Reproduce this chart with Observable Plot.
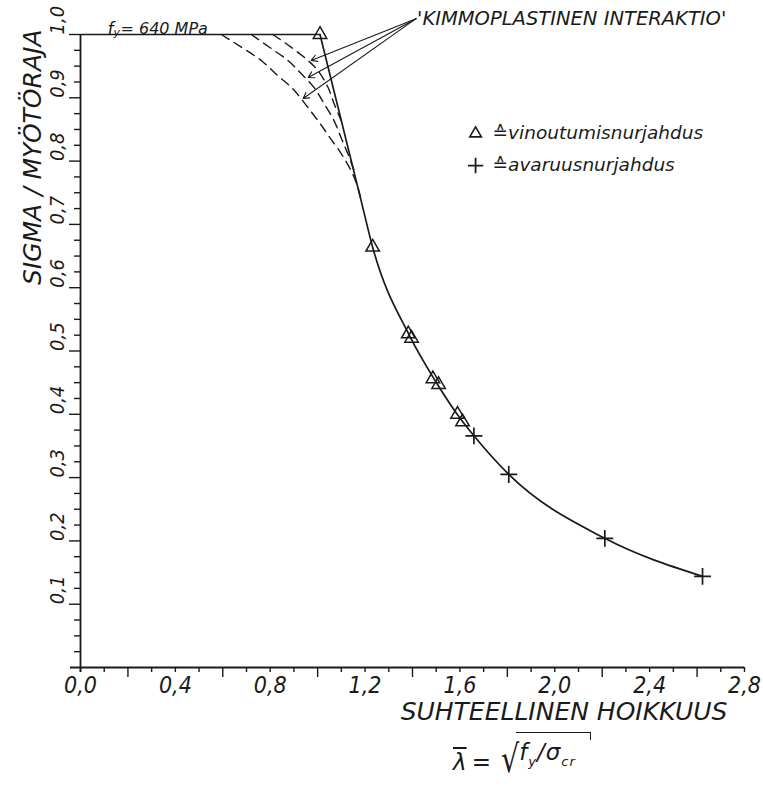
<!DOCTYPE html>
<html>
<head>
<meta charset="utf-8">
<script src="https://cdn.jsdelivr.net/npm/d3@7"></script>
<script src="https://cdn.jsdelivr.net/npm/@observablehq/plot@0.6"></script>
<style>
  html, body { margin: 0; padding: 0; background: #fff; }
  #chart { position: relative; width: 763px; height: 788px; overflow: hidden; background: #fff; }
  #formula { position: absolute; left: 453px; top: 735px; height: 44px; display: flex; align-items: flex-end;
             font-family: "DejaVu Sans", sans-serif; font-style: italic; font-size: 23px; color: #1a1a1a; white-space: nowrap; line-height: 26px; }
  #formula .lam { text-decoration: overline; margin-bottom: 4px; }
  #formula .eq { margin: 0 4px 4px 5px; }
  #formula .sqrt { font-style: normal; font-size: 38px; line-height: 40px; display: inline-block; transform: scaleX(0.75); transform-origin: right bottom; }
  #formula .rad { position: relative; border-top: 1.6px solid #1a1a1a; padding: 6px 14px 0 3px; margin-left: -3px; margin-bottom: 4px; letter-spacing: 1px; }
  #formula .rad::after { content: ""; position: absolute; right: -1px; top: -1px; height: 8px; border-right: 1.6px solid #1a1a1a; }
  #formula sub { font-size: 13px; }
</style>
</head>
<body>
<div id="chart"></div>
<script>
// ---- data ----
const triangleX = [1.01, 1.232, 1.382, 1.396, 1.486, 1.510, 1.590, 1.611];
const triangleY = [1.000, 0.664, 0.527, 0.520, 0.456, 0.447, 0.400, 0.388];
const plusX = [1.659, 1.806, 2.211, 2.623];
const plusY = [0.366, 0.305, 0.204, 0.144];

const plateauX = [0, 1.01];
const plateauY = [1.0, 1.0];
const curveX = [1.01, 1.183, 1.232, 1.389, 1.499, 1.600, 1.659, 1.806, 2.211, 2.623];
const curveY = [1.000, 0.738, 0.664, 0.523, 0.451, 0.394, 0.366, 0.305, 0.204, 0.144];

const dashOuterX = [0.594, 0.678, 0.762, 0.832, 0.896, 0.952, 1.001, 1.050, 1.099, 1.141, 1.169, 1.186];
const dashOuterY = [1.000, 0.980, 0.959, 0.935, 0.914, 0.888, 0.864, 0.838, 0.812, 0.785, 0.759, 0.735];
const dashMiddleX = [0.720, 0.804, 0.875, 0.931, 0.985, 1.027, 1.069, 1.099, 1.127, 1.154];
const dashMiddleY = [1.000, 0.978, 0.959, 0.938, 0.916, 0.891, 0.864, 0.837, 0.812, 0.785];
const dashInnerX = [0.811, 0.888, 0.959, 1.001, 1.043, 1.069, 1.099];
const dashInnerY = [1.000, 0.980, 0.959, 0.943, 0.917, 0.891, 0.864];

const arrowStartX = 1.415, arrowStartY = 1.025;
const arrowEndX = [0.973, 0.960, 0.939];
const arrowEndY = [0.959, 0.932, 0.899];

// legend anchor (data units)
const legendX = 1.666;
const legendY = [0.8436, 0.793];

const xLabelTicks = [0, 0.4, 0.8, 1.2, 1.6, 2.0, 2.4, 2.8];
const xLabels = ["0,0", "0,4", "0,8", "1,2", "1,6", "2,0", "2,4", "2,8"];
const xLongTicks = [0.2, 0.6, 1.0, 1.4, 1.8, 2.2, 2.6];
const xShortTicks = [0, 0.1, 0.3, 0.4, 0.5, 0.7, 0.8, 0.9, 1.1, 1.2, 1.3, 1.5, 1.6, 1.7, 1.9, 2.0, 2.1, 2.3, 2.4, 2.5, 2.7, 2.8];
const yLabelTicks = [0.1, 0.2, 0.3, 0.4, 0.5, 0.6, 0.7, 0.8, 0.9, 1.0];
const yLabels = ["0,1", "0,2", "0,3", "0,4", "0,5", "0,6", "0,7", "0,8", "0,9", "1,0"];
const yMinorTicks = d3.range(0, 40).map(i => i * 0.025).filter(v => Math.abs(v * 10 - Math.round(v * 10)) > 1e-6);

const annotationText = "'KIMMOPLASTINEN INTERAKTIO'";
const legendItems = ["\u2259vinoutumisnurjahdus", "\u2259avaruusnurjahdus"];
const yTitle = "SIGMA / MYÖTÖRAJA";
const xTitle = "SUHTEELLINEN HOIKKUUS";

// ---- tables built from the arrays ----
const triangles = triangleX.map((x, i) => ({x, y: triangleY[i]}));
const pluses = plusX.map((x, i) => ({x, y: plusY[i]}));
const plateau = plateauX.map((x, i) => ({x, y: plateauY[i]}));
const curve = curveX.map((x, i) => ({x, y: curveY[i]}));
const dashed = [
  ...dashOuterX.map((x, i) => ({s: "outer", x, y: dashOuterY[i]})),
  ...dashMiddleX.map((x, i) => ({s: "middle", x, y: dashMiddleY[i]})),
  ...dashInnerX.map((x, i) => ({s: "inner", x, y: dashInnerY[i]}))
];
const arrows = arrowEndX.map((x, i) => ({x1: arrowStartX, y1: arrowStartY, x2: x, y2: arrowEndY[i]}));
const legendRows = legendItems.map((t, i) => ({x: legendX, y: legendY[i], t}));

const W = 763, H = 735, ML = 80, MR = 19, MT = 34, MB = 68;
const FW = W - ML - MR, FH = H - MT - MB;
const ink = "#1a1a1a";
const fontC = '"DejaVu Sans Condensed","DejaVu Sans",sans-serif';
const fontN = '"DejaVu Sans",sans-serif';
const itC = {fontFamily: fontC, fontStyle: "italic", fill: ink};
const itN = {fontFamily: fontN, fontStyle: "italic", fill: ink};

const plot = Plot.plot({
  width: W,
  height: H,
  marginLeft: ML,
  marginRight: MR,
  marginTop: MT,
  marginBottom: MB,
  x: {domain: [0, 2.8], axis: null},
  y: {domain: [0, 1], axis: null},
  style: {background: "white", color: ink, fontFamily: fontN, overflow: "visible"},
  marks: [
    // tick marks (rules hanging into the margins)
    Plot.ruleX(xShortTicks, {x: d => d, insetTop: FH, insetBottom: -5, stroke: ink, strokeWidth: 1.4}),
    Plot.ruleX(xLongTicks, {x: d => d, insetTop: FH, insetBottom: -10, stroke: ink, strokeWidth: 1.4}),
    Plot.ruleY(yMinorTicks, {y: d => d, insetLeft: -6, insetRight: FW, stroke: ink, strokeWidth: 1.4}),
    Plot.ruleY(yLabelTicks, {y: d => d, insetLeft: -11, insetRight: FW, stroke: ink, strokeWidth: 1.4}),
    // axis lines
    Plot.ruleY([0], {insetLeft: -10, stroke: ink, strokeWidth: 1.8}),
    Plot.ruleX([0], {insetBottom: -5, stroke: ink, strokeWidth: 1.8}),
    // tick labels and titles
    Plot.text(xLabelTicks, {x: d => d, frameAnchor: "bottom", dy: 25, text: (d, i) => xLabels[i], fontSize: 23, ...itC}),
    Plot.text(yLabelTicks, {y: d => d, frameAnchor: "left", dx: -23, rotate: -90, text: (d, i) => yLabels[i], fontSize: 20, ...itC}),
    Plot.text([yTitle], {frameAnchor: "top-left", dx: -57, dy: -5, rotate: -90, textAnchor: "end", fontSize: 25, ...itN}),
    Plot.text([xTitle], {frameAnchor: "bottom-right", dx: -17, dy: 52, textAnchor: "end", fontSize: 25, ...itN}),
    // f_y label
    Plot.text(["f"], {frameAnchor: "top-left", dx: 27, dy: -12, textAnchor: "start", fontSize: 17, ...itN}),
    Plot.text(["y"], {frameAnchor: "top-left", dx: 33, dy: -6, textAnchor: "start", fontSize: 11, ...itN}),
    Plot.text(["= 640 MPa"], {frameAnchor: "top-left", dx: 40, dy: -12, textAnchor: "start", fontSize: 16, ...itN}),
    // curves
    Plot.line(plateau, {x: "x", y: "y", stroke: ink, strokeWidth: 1.7}),
    Plot.line(curve, {x: "x", y: "y", stroke: ink, strokeWidth: 1.7, curve: "monotone-x"}),
    Plot.line(dashed, {x: "x", y: "y", z: "s", stroke: ink, strokeWidth: 1.4, strokeDasharray: "9,6", curve: "catmull-rom"}),
    // annotation
    Plot.arrow(arrows, {x1: "x1", y1: "y1", x2: "x2", y2: "y2", stroke: ink, strokeWidth: 1.1, headLength: 9}),
    Plot.text([annotationText], {x: () => arrowStartX, y: () => arrowStartY, dx: 1, textAnchor: "start", fontSize: 19.5, ...itN}),
    // markers
    Plot.dot(triangles, {x: "x", y: "y", symbol: "triangle", r: 5, stroke: ink, strokeWidth: 1.5, fill: "none"}),
    Plot.dot(pluses, {x: "x", y: "y", symbol: "plus", r: 5.5, stroke: ink, strokeWidth: 1.7}),
    // legend
    Plot.dot(legendRows.slice(0, 1), {x: "x", y: "y", symbol: "triangle", r: 4.3, stroke: ink, strokeWidth: 1.6, fill: "none"}),
    Plot.dot(legendRows.slice(1, 2), {x: "x", y: "y", symbol: "plus", r: 5, stroke: ink, strokeWidth: 1.8}),
    Plot.text(legendRows, {x: "x", y: "y", text: "t", dx: 17, textAnchor: "start", fontSize: 18.5, ...itN})
  ]
});

const chart = document.getElementById("chart");
chart.appendChild(plot);
const f = document.createElement("div");
f.id = "formula";
f.innerHTML = '<span class="lam">\u03bb</span><span class="eq">=</span><span class="sqrt">\u221a</span><span class="rad">f<sub>y</sub>/\u03c3<sub>cr</sub></span>';
chart.appendChild(f);
</script>
</body>
</html>
